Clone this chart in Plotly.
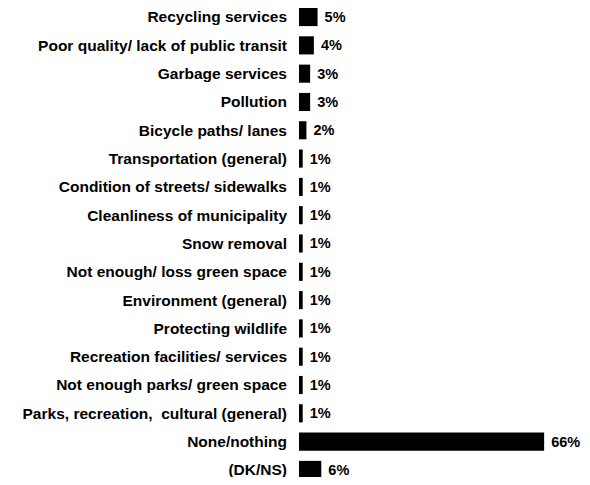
import plotly.graph_objects as go

categories = [
    "Recycling services",
    "Poor quality/ lack of public transit",
    "Garbage services",
    "Pollution",
    "Bicycle paths/ lanes",
    "Transportation (general)",
    "Condition of streets/ sidewalks",
    "Cleanliness of municipality",
    "Snow removal",
    "Not enough/ loss green space",
    "Environment (general)",
    "Protecting wildlife",
    "Recreation facilities/ services",
    "Not enough parks/ green space",
    "Parks, recreation,  cultural (general)",
    "None/nothing",
    "(DK/NS)",
]
values = [5, 4, 3, 3, 2, 1, 1, 1, 1, 1, 1, 1, 1, 1, 1, 66, 6]
labels = [f" {v}%" for v in values]

FONT = "Liberation Sans, Arial, sans-serif"

fig = go.Figure(go.Bar(
    x=values,
    y=categories,
    orientation="h",
    marker=dict(color="#000000", line=dict(width=0)),
    width=0.64,
    text=labels,
    textposition="outside",
    textfont=dict(family=FONT, size=14.5, color="#000000", weight="bold"),
    cliponaxis=False,
))

# page body has an 8px margin, so the plot is shifted up/left to compensate
fig.update_layout(
    width=590,
    height=469,
    margin=dict(l=291, r=0, t=0, b=0),
    paper_bgcolor="white",
    plot_bgcolor="white",
    showlegend=False,
    font=dict(family=FONT, size=15, color="#000000"),
)
fig.update_xaxes(range=[0, 80.5], visible=False)
fig.update_yaxes(
    range=[16.25, -0.32],
    showline=False,
    showgrid=False,
    ticks="",
    ticklabelstandoff=11,
    tickfont=dict(family=FONT, size=15.5, color="#000000", weight="bold"),
)

fig.write_html("out.html")
